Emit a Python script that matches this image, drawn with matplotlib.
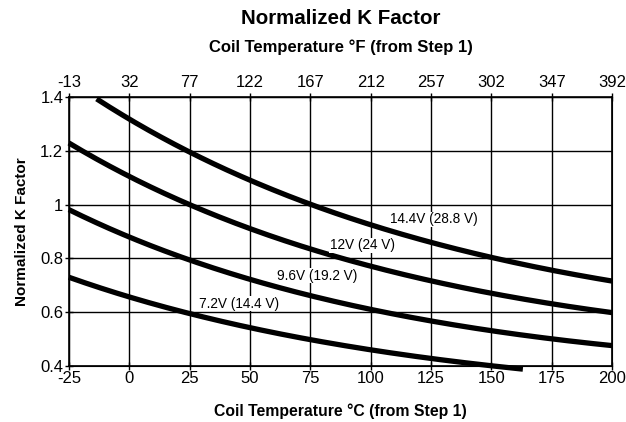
import matplotlib
matplotlib.use("Agg")
import matplotlib.pyplot as plt
import numpy as np

plt.rcParams['font.family'] = ['Liberation Sans', 'DejaVu Sans']

temp_c = [-25, 0, 25, 50, 75, 100, 125, 150, 175, 200]

# Normalized K factor curves
k_144 = [None, 1.307, 1.20, 1.09, 1.00, 0.93, 0.859, 0.80, 0.755, 0.717]
k_12 = [1.236, 1.098, 0.997, 0.911, 0.835, 0.775, 0.717, 0.668, 0.631, 0.598]
k_96 = [0.993, 0.866, 0.79, 0.725, 0.662, 0.613, 0.568, 0.53, 0.50, 0.475]
k_72 = [0.732, 0.654, 0.594, 0.542, 0.497, 0.463, 0.426, 0.40, None, None]

# curve ends that don't fall on the grid
start_144 = (-13.5, 1.40)
end_72 = (163, 0.388)

labels = ['14.4V (28.8 V)', '12V (24 V)', '9.6V (19.2 V)', '7.2V (14.4 V)']
label_pos = [(108, 0.945), (83, 0.848), (61, 0.736), (29, 0.631)]

c_ticks = [-25, 0, 25, 50, 75, 100, 125, 150, 175, 200]
f_ticks = ['-13', '32', '77', '122', '167', '212', '257', '302', '347', '392']


def curve(xs, ys, start=None, end=None):
    pts = [(x, y) for x, y in zip(xs, ys) if y is not None]
    if start:
        pts = [start] + pts
    if end:
        pts = pts + [end]
    x = np.array([p[0] for p in pts], float)
    y = np.array([p[1] for p in pts], float)
    # smooth with a quadratic fit in log space
    coef = np.polyfit(x, np.log(y), 2)
    xx = np.linspace(x[0], x[-1], 200)
    return xx, np.exp(np.polyval(coef, xx))


fig = plt.figure(figsize=(6.26, 4.22), dpi=100)
ax = fig.add_axes([0.110, 0.133, 0.868, 0.637])

for ys, st, en in [(k_144, start_144, None), (k_12, None, None),
                   (k_96, None, None), (k_72, None, end_72)]:
    xx, yy = curve(temp_c, ys, st, en)
    ax.plot(xx, yy, color='black', lw=3.8, solid_capstyle='butt', clip_on=False, zorder=3)

for txt, (x, y) in zip(labels, label_pos):
    ax.text(x, y, txt, fontsize=9.8, ha='left', va='center',
            bbox=dict(facecolor='white', edgecolor='none', pad=0.5), zorder=4)

ax.set_xlim(-25, 200)
ax.set_ylim(0.4, 1.4)
ax.set_xticks(c_ticks)
ax.set_xticklabels([str(t) for t in c_ticks])
ax.set_yticks([0.4, 0.6, 0.8, 1.0, 1.2, 1.4])
ax.set_yticklabels(['0.4', '0.6', '0.8', '1', '1.2', '1.4'])
ax.grid(True, color='black', lw=1.0)
ax.set_axisbelow(True)
for s in ax.spines.values():
    s.set_linewidth(1.2)
ax.tick_params(axis='both', direction='inout', length=6, width=1.0,
               labelsize=12, pad=1)

ax_top = ax.twiny()
ax_top.set_xlim(ax.get_xlim())
ax_top.set_xticks(c_ticks)
ax_top.set_xticklabels(f_ticks)
ax_top.tick_params(axis='x', direction='inout', length=6, width=1.0,
                   labelsize=12, pad=2)

ax.set_ylabel('Normalized K Factor', fontsize=11, fontweight='bold', labelpad=8)
ax.set_xlabel('Coil Temperature °C (from Step 1)', fontsize=11.3,
              fontweight='bold', labelpad=12)

fig.text(0.545, 0.957, 'Normalized K Factor', ha='center', va='center',
         fontsize=14.8, fontweight='bold')
fig.text(0.545, 0.889, 'Coil Temperature °F (from Step 1)', ha='center',
         va='center', fontsize=12, fontweight='bold')

fig.savefig('out.png', dpi=100)
